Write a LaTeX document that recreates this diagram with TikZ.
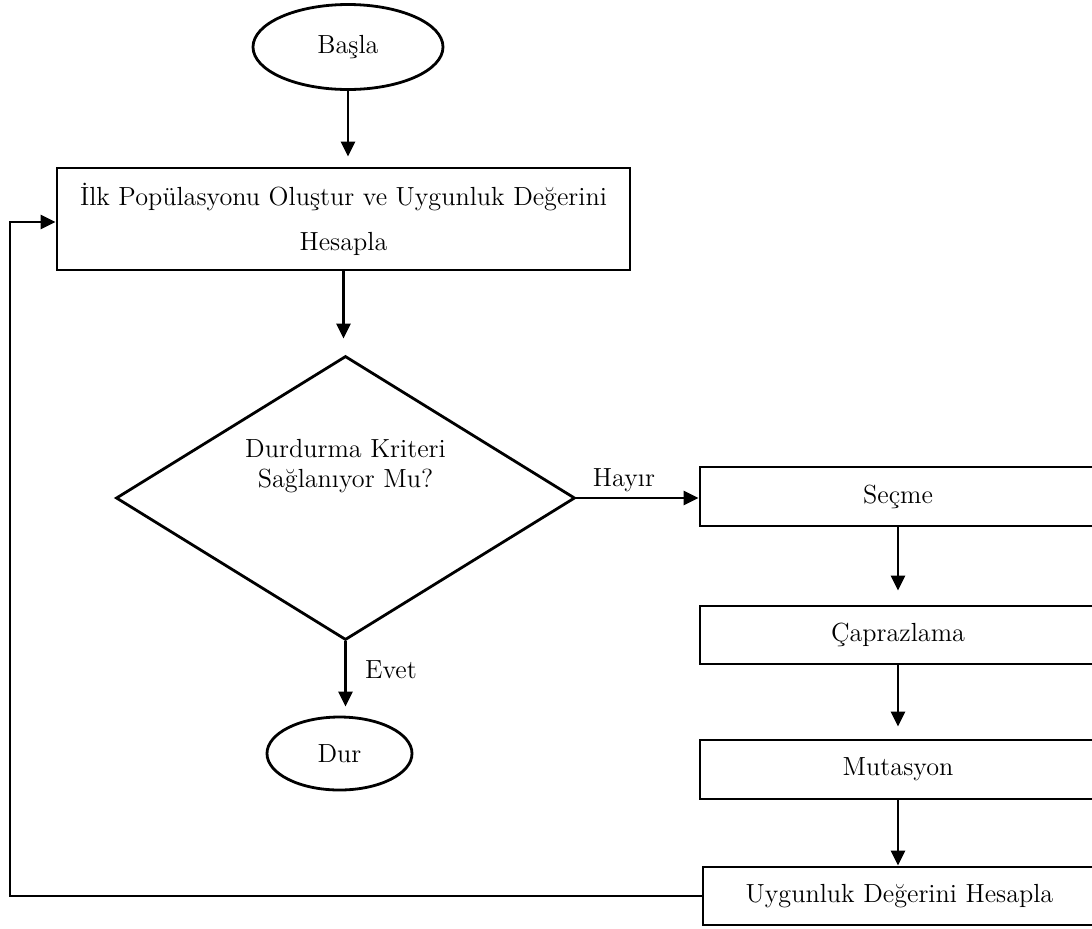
\documentclass[tikz,border=0pt]{standalone}
\usepackage{tikz}
\usetikzlibrary{shapes.geometric,arrows.meta}

\tikzset{
  akis/.style={line width=1.4pt,-{Triangle[length=7.5pt,width=7pt]}},
  bosluk/.style={shorten >=#1},
  kutu/.style={draw,line width=1.4pt,rectangle,inner sep=0pt},
  uc/.style={draw,line width=1.4pt,ellipse,inner sep=0pt},
  karar/.style={draw,line width=1.4pt,diamond,inner sep=0pt},
  yazi/.style={font=\fontsize{13.1}{15}\selectfont}
}

\begin{document}
\begin{tikzpicture}[x=0.5pt,y=-0.5pt,every node/.style={yazi}]
		% picture frame, right column boxes run past it
		\useasboundingbox (0,0) rectangle (1092,928);
		\clip (0,0) rectangle (1092,928);

		% start and end
		\node[uc,minimum width=95pt,minimum height=42.5pt] (basla) at (348,47) {Başla};
		\node[uc,minimum width=72.5pt,minimum height=36.5pt] (dur) at (339.5,753.5) {Dur};

		% first population
		\node[kutu,minimum width=286.5pt,minimum height=51pt,align=center] (olustur) at (343.5,219)
			{İlk Popülasyonu Oluştur ve Uygunluk Değerini\\[7.5pt]Hesapla};

		% stop test
		\node[karar,minimum width=229.5pt,minimum height=142pt] (kriter) at (345.5,498) {};
		\node[align=center] (kriteryazi) at (345.5,466) {Durdurma Kriteri\\Sağlanıyor Mu?};

		% genetic steps
		\node[kutu,minimum width=198pt,minimum height=29.5pt] (secme) at (898,496.5) {Seçme};
		\node[kutu,minimum width=198pt,minimum height=29pt] (caprazlama) at (898,635) {Çaprazlama};
		\node[kutu,minimum width=198pt,minimum height=29.5pt] (mutasyon) at (898,769.5) {Mutasyon};
		\node[kutu,minimum width=196.5pt,minimum height=29pt] (uygunluk) at (899.5,896) {Uygunluk Değerini Hesapla};

		% branch labels
		\node (hayir) at (624,480) {Hayır};
		\node (evet) at (391,670) {Evet};

		% main flow
		\draw[akis,bosluk=5pt] (basla.south) -- (basla.south |- olustur.north);
		\draw[akis,bosluk=8pt] (olustur.south) -- (olustur.south |- kriter.north);
		\draw[akis,bosluk=4.5pt] (kriter.south) -- (kriter.south |- dur.north);
		\draw[akis] (kriter.east) -- (kriter.east -| secme.west);

		% right column
		\draw[akis,bosluk=7pt] (secme.south) -- (caprazlama.north);
		\draw[akis,bosluk=6pt] (caprazlama.south) -- (mutasyon.north);
		\draw[akis] (mutasyon.south) -- (mutasyon.south |- uygunluk.north);

		% back to the first box
		\coordinate (altkose) at (10,896);
		\coordinate (ustkose) at (10,222);
		\draw[akis] (uygunluk.west) -- (altkose) -- (ustkose) -- (ustkose -| olustur.west);
	\end{tikzpicture}
\end{document}
